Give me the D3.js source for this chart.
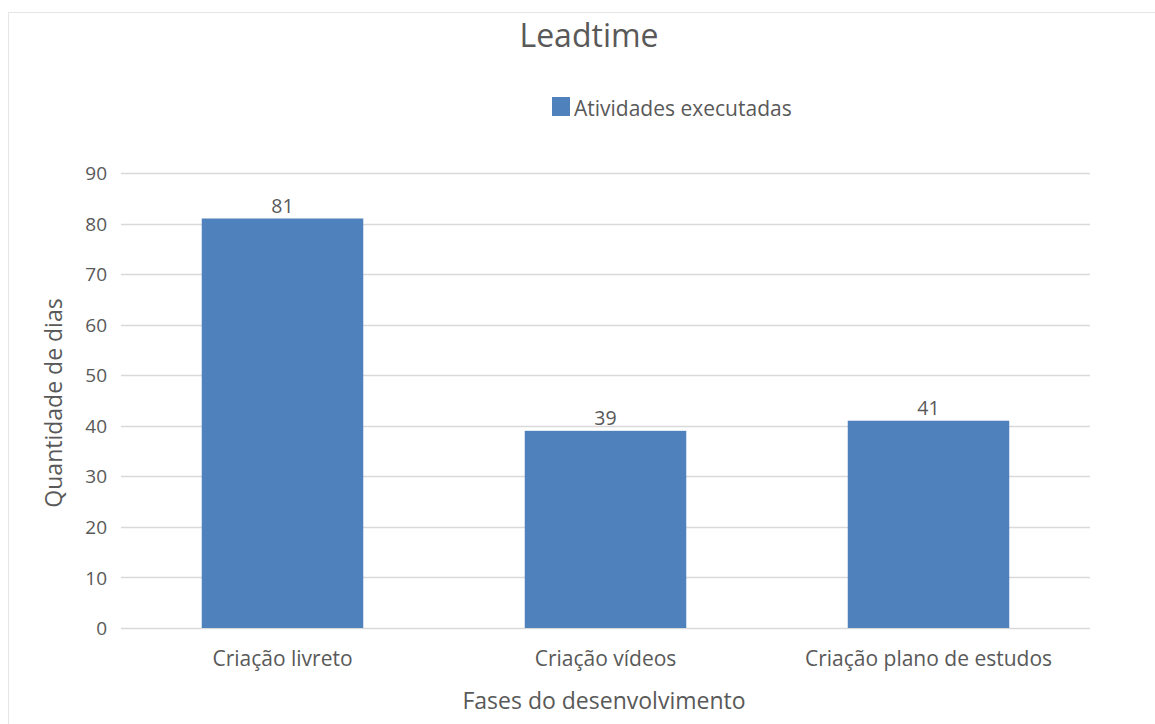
<!DOCTYPE html>
<html>
<head>
<meta charset="utf-8">
<script src="https://cdn.jsdelivr.net/npm/d3@7"></script>
<style>
  html, body { margin: 0; padding: 0; background: #fff; }
  svg text { font-family: "Open Sans", "Noto Sans", sans-serif; fill: #595959; }
</style>
</head>
<body>
<svg id="chart" width="1155" height="724"></svg>
<script>
// Lead time (days) per development phase
const categories = ["Criação livreto", "Criação vídeos", "Criação plano de estudos"];
const values = [81, 39, 41];
const seriesName = "Atividades executadas";
const yTicks = [0, 10, 20, 30, 40, 50, 60, 70, 80, 90];

const svg = d3.select("#chart");
const W = 1155, H = 724;
const plot = { left: 121, right: 1090, top: 173, bottom: 628 };

// chart frame
svg.append("rect")
  .attr("x", 8.5).attr("y", 12.5)
  .attr("width", W + 10).attr("height", H + 10)
  .attr("fill", "#fff").attr("stroke", "#e6e6e6").attr("stroke-width", 1);

const x = d3.scaleBand().domain(categories).range([plot.left, plot.right]).paddingInner(0.5).paddingOuter(0.25);
const y = d3.scaleLinear().domain([0, 90]).range([plot.bottom, plot.top]);

// gridlines
svg.append("g").selectAll("line").data(yTicks).join("line")
  .attr("x1", plot.left).attr("x2", plot.right)
  .attr("y1", d => Math.round(y(d)) + 0.5).attr("y2", d => Math.round(y(d)) + 0.5)
  .attr("stroke", "#d9d9d9").attr("stroke-width", 1.5);

// y axis labels
const yAxis = d3.axisLeft(y).tickValues(yTicks).tickSize(0).tickPadding(0);
const gy = svg.append("g").attr("transform", `translate(${plot.left - 14},0)`).call(yAxis);
gy.select(".domain").remove();
gy.selectAll("text").attr("font-size", 19).attr("fill", "#595959")
  .style("font-family", '"Open Sans", sans-serif').attr("dy", "0.35em");

// bars
svg.append("g").selectAll("rect").data(values).join("rect")
  .attr("x", (d, i) => x(categories[i]))
  .attr("width", x.bandwidth())
  .attr("y", d => y(d))
  .attr("height", d => y(0) - y(d))
  .attr("fill", "#4f81bd");

// value labels
svg.append("g").selectAll("text").data(values).join("text")
  .attr("x", (d, i) => x(categories[i]) + x.bandwidth() / 2)
  .attr("y", d => y(d) - 6)
  .attr("text-anchor", "middle")
  .attr("font-size", 19.5)
  .attr("fill", "#404040")
  .text(d => d);

// x axis labels
const xAxis = d3.axisBottom(x).tickSize(0).tickPadding(0);
const gx = svg.append("g").attr("transform", `translate(0,${plot.bottom})`).call(xAxis);
gx.select(".domain").remove();
gx.selectAll("text").attr("font-size", 21).attr("fill", "#595959")
  .style("font-family", '"Open Sans", sans-serif').attr("y", 38).attr("dy", 0);

// title
svg.append("text").attr("x", 589).attr("y", 47).attr("text-anchor", "middle")
  .attr("font-size", 32).text("Leadtime");

// legend
svg.append("rect").attr("x", 552).attr("y", 97).attr("width", 18).attr("height", 19).attr("fill", "#4f81bd");
svg.append("text").attr("x", 574).attr("y", 116).attr("font-size", 21).text(seriesName);

// axis titles
svg.append("text").attr("x", 604).attr("y", 709).attr("text-anchor", "middle")
  .attr("font-size", 23).text("Fases do desenvolvimento");
svg.append("text").attr("transform", "translate(62,403) rotate(-90)").attr("text-anchor", "middle")
  .attr("font-size", 23).text("Quantidade de dias");
</script>
</body>
</html>
